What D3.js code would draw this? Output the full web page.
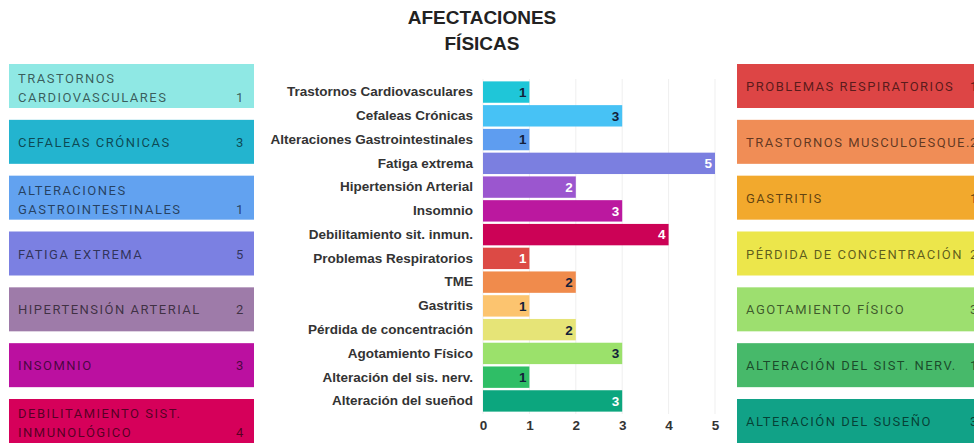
<!DOCTYPE html>
<html>
<head>
<meta charset="utf-8">
<script src="https://cdn.jsdelivr.net/npm/d3@7"></script>
<style>
  body { margin: 0; background: #fff; }
  svg { display: block; }
</style>
</head>
<body>
<div id="chart"></div>
<script>
// Bar chart data
let categories = [
    'Trastornos Cardiovasculares', 'Cefaleas Crónicas', 'Alteraciones Gastrointestinales',
    'Fatiga extrema', 'Hipertensión Arterial', 'Insomnio', 'Debilitamiento sit. inmun.',
    'Problemas Respiratorios', 'TME', 'Gastritis', 'Pérdida de concentración',
    'Agotamiento Físico', 'Alteración del sis. nerv.', 'Alteración del sueñod'
];
let values = [1, 3, 1, 5, 2, 3, 4, 1, 2, 1, 2, 3, 1, 3];
let barColors = [
    '#1fc6d8', '#47c2f5', '#5e9df0', '#7b7fe0', '#9b56cf', '#bb189f', '#cc0256',
    '#dc4a45', '#f08b4c', '#fcc46f', '#e6e477', '#9be16b', '#2fbe66', '#0ca67e'
];
let xTicks = [0, 1, 2, 3, 4, 5];

// Side panels
let leftLabels = [
    'TRASTORNOS\nCARDIOVASCULARES', 'CEFALEAS CRÓNICAS', 'ALTERACIONES\nGASTROINTESTINALES',
    'FATIGA EXTREMA', 'HIPERTENSIÓN ARTERIAL', 'INSOMNIO', 'DEBILITAMIENTO SIST.\nINMUNOLÓGICO'
];
let leftValues = [1, 3, 1, 5, 2, 3, 4];
let leftColors = ['#8fe8e4', '#23b4cf', '#62a2f0', '#7b80e2', '#9e7ba9', '#bb10a0', '#d6005a'];

let rightLabels = [
    'PROBLEMAS RESPIRATORIOS', 'TRASTORNOS MUSCULOESQUE.', 'GASTRITIS',
    'PÉRDIDA DE CONCENTRACIÓN', 'AGOTAMIENTO FÍSICO', 'ALTERACIÓN DEL SIST. NERV.', 'ALTERACIÓN DEL SUSEÑO'
];
let rightValues = [1, 2, 1, 2, 3, 1, 3];
let rightColors = ['#dd4545', '#f08d56', '#f2a92d', '#ece64b', '#9ddf6f', '#47b96a', '#11a287'];

let chart_width = 974;
let chart_height = 443;
let labelFont = 'bold 13.5px "Liberation Sans", Arial, sans-serif';
let panelFont = '13px Roboto, sans-serif';

let svg = d3.select('#chart')
    .append('svg')
    .attr('width', chart_width)
    .attr('height', chart_height);

// Title
svg.append('text')
    .attr('x', 482)
    .attr('y', 24)
    .attr('text-anchor', 'middle')
    .style('font', 'bold 19px "Liberation Sans", Arial, sans-serif')
    .attr('fill', '#222')
    .text('AFECTACIONES');
svg.append('text')
    .attr('x', 482)
    .attr('y', 50)
    .attr('text-anchor', 'middle')
    .style('font', 'bold 19px "Liberation Sans", Arial, sans-serif')
    .attr('fill', '#222')
    .text('FÍSICAS');

// Scales
let xScale = d3.scaleLinear()
    .domain([0, 5])
    .range([483, 715]);

let yScale = d3.scaleBand()
    .domain(categories)
    .range([79, 414])
    .padding(0.1);

// Gridlines
svg.append('g')
    .selectAll('line')
    .data(xTicks)
    .enter()
    .append('line')
    .attr('x1', d => xScale(d))
    .attr('x2', d => xScale(d))
    .attr('y1', 79)
    .attr('y2', 414)
    .attr('stroke', '#efefef')
    .attr('stroke-width', 1);

// x axis
let xAxis = d3.axisBottom(xScale)
    .tickValues(xTicks)
    .tickFormat(d3.format('d'))
    .tickSize(0)
    .tickPadding(6);

let xg = svg.append('g')
    .attr('transform', 'translate(0,414)')
    .call(xAxis);
xg.select('.domain').remove();
xg.selectAll('text')
    .style('font', labelFont)
    .attr('fill', '#333');

// y axis (category labels)
let yAxis = d3.axisLeft(yScale)
    .tickSize(0)
    .tickPadding(10);

let yg = svg.append('g')
    .attr('transform', 'translate(483,0)')
    .call(yAxis);
yg.select('.domain').remove();
yg.selectAll('text')
    .style('font', labelFont)
    .attr('fill', '#333');

// Bars
svg.selectAll('rect.bar')
    .data(values)
    .enter()
    .append('rect')
    .attr('class', 'bar')
    .attr('x', xScale(0))
    .attr('y', (d, i) => yScale(categories[i]))
    .attr('width', d => xScale(d) - xScale(0))
    .attr('height', yScale.bandwidth())
    .attr('fill', (d, i) => barColors[i]);

// Value labels
svg.append('g')
    .selectAll('text')
    .data(values)
    .enter()
    .append('text')
    .attr('x', d => xScale(d) - 3)
    .attr('y', (d, i) => yScale(categories[i]) + yScale.bandwidth() / 2)
    .attr('dy', '0.36em')
    .attr('text-anchor', 'end')
    .style('font', labelFont)
    .attr('fill', (d, i) => d3.lab(barColors[i]).l > 62 ? '#13203a' : '#fff')
    .text(d => d);

// Side panels
let panelY = d3.scaleLinear()
    .domain([0, 6])
    .range([64, 399]);
let panelH = 44;

function drawPanels(labels, vals, colors, x0, w, numX) {
    let g = svg.append('g');
    let p = g.selectAll('g')
        .data(labels)
        .enter()
        .append('g')
        .attr('transform', (d, i) => 'translate(' + x0 + ',' + panelY(i) + ')');

    p.append('rect')
        .attr('width', w)
        .attr('height', panelH)
        .attr('fill', (d, i) => colors[i]);

    p.each(function(d, i) {
        let lines = d.split('\n');
        let t = d3.select(this).append('text')
            .style('font', panelFont)
            .style('letter-spacing', '1.5px')
            .attr('fill', 'rgba(0,0,0,0.62)');
        if (lines.length === 1) {
            t.append('tspan').attr('x', 9).attr('y', 27).text(lines[0]);
        } else {
            t.append('tspan').attr('x', 9).attr('y', 19).text(lines[0]);
            t.append('tspan').attr('x', 9).attr('y', 38).text(lines[1]);
        }
        d3.select(this).append('text')
            .attr('x', numX)
            .attr('y', lines.length === 1 ? 27 : 38)
            .style('font', panelFont)
            .attr('fill', 'rgba(0,0,0,0.62)')
            .text(vals[i]);
    });
}

drawPanels(leftLabels, leftValues, leftColors, 9, 245, 227);
drawPanels(rightLabels, rightValues, rightColors, 737, 245, 233);
</script>
</body>
</html>
